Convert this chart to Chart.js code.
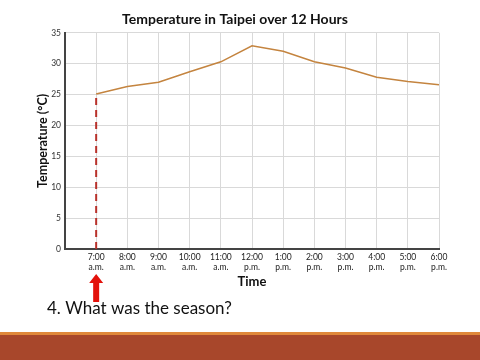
<!DOCTYPE html>
<html>
<head>
<meta charset="utf-8">
<script src="https://cdn.jsdelivr.net/npm/chart.js@4"></script>
<style>
  html, body { margin: 0; padding: 0; background: #fff; }
  #wrap { width: 480px; height: 360px; }
</style>
</head>
<body>
<div id="wrap"><canvas id="tempChart" width="480" height="360"></canvas></div>
<script>
// hour slots on the x axis, 0 is the empty slot at the y axis
const timeLabels = ['', ['7:00', 'a.m.'], ['8:00', 'a.m.'], ['9:00', 'a.m.'], ['10:00', 'a.m.'], ['11:00', 'a.m.'],
    ['12:00', 'p.m.'], ['1:00', 'p.m.'], ['2:00', 'p.m.'], ['3:00', 'p.m.'], ['4:00', 'p.m.'], ['5:00', 'p.m.'], ['6:00', 'p.m.']];
const hourSlots = [1, 2, 3, 4, 5, 6, 7, 8, 9, 10, 11, 12];
const temperatures = [25.1, 26.3, 27.0, 28.7, 30.3, 32.9, 32.0, 30.3, 29.3, 27.8, 27.1, 26.6];
const markerSlot = 1;
const markerTemp = 25;
const yTicks = [0, 5, 10, 15, 20, 25, 30, 35];

const font = 'Lato, "DejaVu Sans", sans-serif';

const extras = {
    id: 'extras',
    afterDraw(chart) {
        const ctx = chart.ctx;
        const x = chart.scales.x.getPixelForValue(markerSlot);
        ctx.save();
        // red arrow under the 7:00 tick
        ctx.fillStyle = '#e3120b';
        ctx.beginPath();
        ctx.moveTo(x, 274);
        ctx.lineTo(x + 7, 283);
        ctx.lineTo(x + 3, 283);
        ctx.lineTo(x + 3, 302);
        ctx.lineTo(x - 3, 302);
        ctx.lineTo(x - 3, 283);
        ctx.lineTo(x - 7, 283);
        ctx.closePath();
        ctx.fill();
        // question
        ctx.fillStyle = '#111';
        ctx.font = '17px ' + font;
        ctx.textBaseline = 'alphabetic';
        ctx.fillText('4. What was the season?', 47, 314);
        // footer band
        ctx.fillStyle = '#e0883a';
        ctx.fillRect(0, 332, 480, 3);
        ctx.fillStyle = '#a8472b';
        ctx.fillRect(0, 335, 480, 25);
        ctx.restore();
    }
};

new Chart(document.getElementById('tempChart'), {
    type: 'scatter',
    data: {
        datasets: [{
            label: 'Temperature',
            data: hourSlots.map((h, i) => ({ x: h, y: temperatures[i] })),
            showLine: true,
            borderColor: '#c4843f',
            borderWidth: 1.5,
            pointRadius: 0,
            tension: 0
        }, {
            label: 'Start',
            data: [{ x: markerSlot, y: 0 }, { x: markerSlot, y: markerTemp }],
            showLine: true,
            borderColor: '#b8312a',
            borderWidth: 2,
            borderDash: [7, 5],
            pointRadius: 0
        }]
    },
    plugins: [extras],
    options: {
        responsive: false,
        animation: false,
        layout: { padding: { top: 0, right: 41, bottom: 66, left: 31 } },
        plugins: {
            legend: { display: false },
            tooltip: { enabled: false },
            title: {
                display: true,
                text: 'Temperature in Taipei over 12 Hours',
                color: '#111',
                font: { family: font, size: 14, weight: 'bold' },
                padding: { top: 11, bottom: 5 }
            }
        },
        scales: {
            x: {
                type: 'linear',
                min: 0,
                max: 12,
                afterBuildTicks(scale) {
                    scale.ticks = timeLabels.map((l, i) => ({ value: i }));
                },
                afterFit(scale) { scale.height = 45; },
                ticks: {
                    autoSkip: false,
                    maxRotation: 0,
                    color: '#222',
                    font: { family: font, size: 8.5 },
                    padding: 3,
                    callback: (v) => timeLabels[v]
                },
                grid: { color: '#d9d9d9', drawTicks: false },
                border: { color: '#444', width: 2 },
                title: {
                    display: true,
                    text: 'Time',
                    color: '#111',
                    font: { family: font, size: 13, weight: 'bold' },
                    padding: { top: 6 }
                }
            },
            y: {
                min: 0,
                max: 35,
                afterBuildTicks(scale) {
                    scale.ticks = yTicks.map(v => ({ value: v }));
                },
                afterFit(scale) { scale.width = 34; },
                ticks: {
                    color: '#333',
                    font: { family: font, size: 8.5 },
                    padding: 4
                },
                grid: { color: '#d9d9d9', drawTicks: false },
                border: { color: '#444', width: 2 },
                title: {
                    display: true,
                    text: 'Temperature (°C)',
                    color: '#111',
                    font: { family: font, size: 12.5, weight: 'bold' },
                    padding: { bottom: 2 }
                }
            }
        }
    }
});
</script>
</body>
</html>
